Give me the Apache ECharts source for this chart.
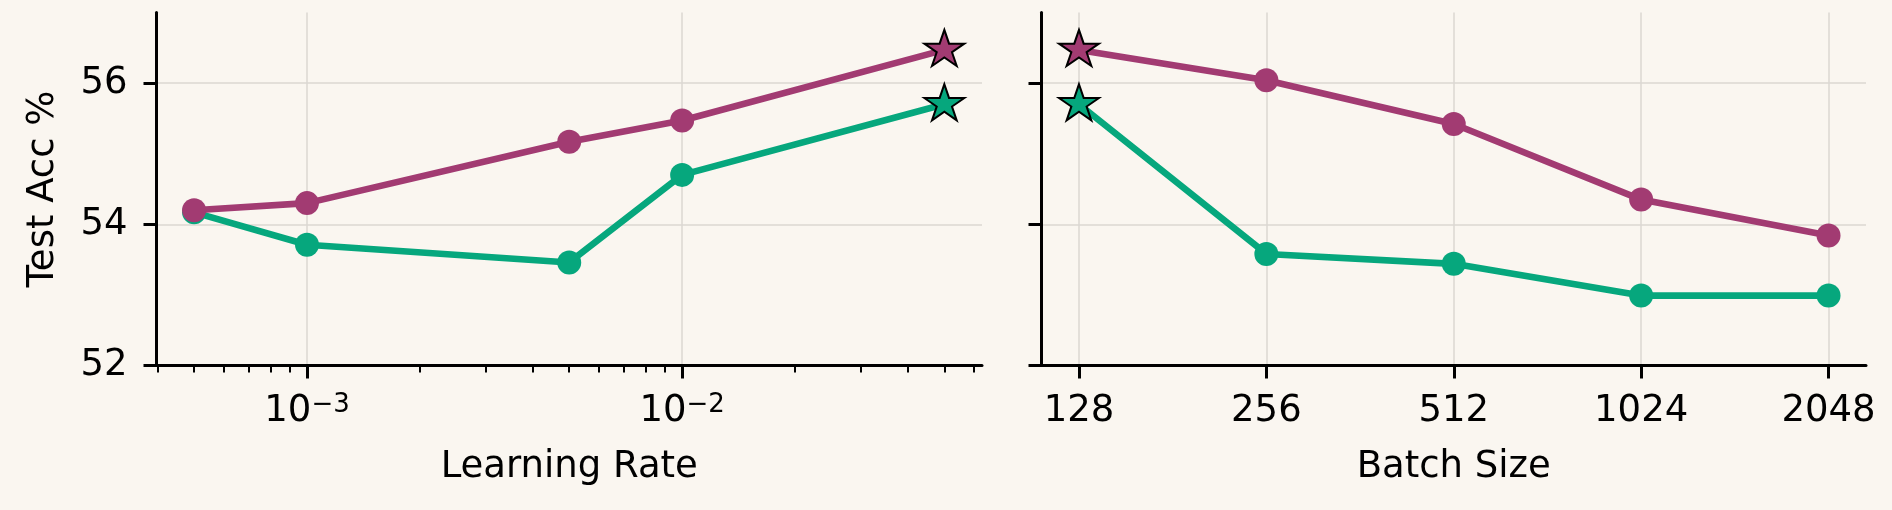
<!DOCTYPE html>
<html><head><meta charset="utf-8">
<script src="https://cdn.jsdelivr.net/npm/echarts@6/dist/echarts.min.js"></script>
<style>html,body{margin:0;padding:0;background:#FAF6F0;}#c{width:1892px;height:510px;}</style>
</head><body><div id="c"></div>
<script>
// ---- data ----
const lrValues = [0.0005, 0.001, 0.005, 0.01, 0.05];
const lrAccPink = [54.20, 54.30, 55.17, 55.47, 56.47];
const lrAccGreen = [54.17, 53.71, 53.46, 54.70, 55.70];
const lrBestIndex = 4;

const batchLabels = ['128', '256', '512', '1024', '2048'];
const bsAccPink = [56.47, 56.04, 55.42, 54.35, 53.84];
const bsAccGreen = [55.70, 53.58, 53.44, 52.99, 52.99];
const bsBestIndex = 0;

const yTicks = [52, 54, 56];
const lrMajorTicks = [0.001, 0.01];
const lrMinorTicks = [0.0004, 0.0005, 0.0006, 0.0007, 0.0008, 0.0009,
  0.002, 0.003, 0.004, 0.005, 0.006, 0.007, 0.008, 0.009,
  0.02, 0.03, 0.04, 0.05, 0.06];

// ---- styles ----
const PINK = '#A23B72', GREEN = '#06A77D', BG = '#FAF6F0', GRIDC = '#DBD7D2';
const FONT = 'DejaVu Sans';
const FS = 37;
const LR_MIN = 3.97e-4, LR_MAX = 0.0630;

function starPath() {
  const pts = [];
  for (let k = 0; k < 10; k++) {
    const a = -Math.PI / 2 + k * Math.PI / 5;
    const r = k % 2 === 0 ? 1 : 0.381966;
    pts.push((r * Math.cos(a)).toFixed(4) + ',' + (r * Math.sin(a)).toFixed(4));
  }
  return 'path://M' + pts.join('L') + 'Z';
}
const STAR = starPath();

function mkSeries(xs, ys, color, best, xi, yi, z) {
  return {
    type: 'line', xAxisIndex: xi, yAxisIndex: yi, z: z,
    symbol: 'circle', symbolSize: 24, showSymbol: true,
    lineStyle: { color: color, width: 6.6 },
    itemStyle: { color: color, borderWidth: 0 },
    emphasis: { disabled: true }, silent: true, animation: false,
    data: ys.map((y, i) => i === best ? {
      value: [xs[i], y], symbol: STAR, symbolSize: [40, 38], symbolKeepAspect: true,
      symbolOffset: [0, -2],
      itemStyle: { color: color, borderColor: '#000', borderWidth: 2 }
    } : { value: [xs[i], y] })
  };
}

const axisLineStyle = { show: true, onZero: false, lineStyle: { color: '#000', width: 3 } };
const majorTick = { show: true, length: 13, lineStyle: { color: '#000', width: 3 } };
const labelBase = { color: '#000', fontSize: FS, fontFamily: FONT };
const nameStyle = { color: '#000', fontSize: FS, fontFamily: FONT };

const bsIdx = batchLabels.map((_, i) => i);

const option = {
  backgroundColor: BG,
  animation: false,
  grid: [
    { left: 156.5, top: 12.5, width: 825.5, height: 353, containLabel: false, outerBoundsMode: 'none' },
    { left: 1041.5, top: 12.5, width: 824.5, height: 353, containLabel: false, outerBoundsMode: 'none' }
  ],
  xAxis: [
    {
      gridIndex: 0, type: 'log', logBase: 10, min: LR_MIN, max: LR_MAX, position: 'bottom',
      axisLine: axisLineStyle,
      axisTick: Object.assign({ customValues: lrMajorTicks }, majorTick),
      minorTick: { show: false },
      axisLabel: Object.assign({
        customValues: lrMajorTicks, margin: 27,
        formatter: v => '{b|10}{s|−' + Math.abs(Math.round(Math.log10(v))) + '}',
        rich: {
          b: { fontSize: FS, fontFamily: FONT, color: '#000' },
          s: { fontSize: 26, fontFamily: FONT, color: '#000', verticalAlign: 'top', lineHeight: 20 }
        }
      }, labelBase),
      splitLine: { show: true, lineStyle: { color: GRIDC, width: 1.5 } },
      name: 'Learning Rate', nameLocation: 'middle', nameGap: 83, nameTextStyle: nameStyle
    },
    {
      gridIndex: 0, type: 'log', logBase: 10, min: LR_MIN, max: LR_MAX, position: 'bottom',
      axisLine: { show: false, onZero: false },
      axisTick: { show: true, customValues: lrMinorTicks, length: 7, lineStyle: { color: '#000', width: 2 } },
      minorTick: { show: false },
      axisLabel: { show: false },
      splitLine: { show: false }
    },
    {
      gridIndex: 1, type: 'value', min: -0.2, max: 4.2, position: 'bottom',
      axisLine: axisLineStyle,
      axisTick: Object.assign({ customValues: bsIdx }, majorTick),
      axisLabel: Object.assign({
        customValues: bsIdx, margin: 27,
        formatter: v => batchLabels[Math.round(v)]
      }, labelBase),
      splitLine: { show: true, lineStyle: { color: GRIDC, width: 1.5 } },
      name: 'Batch Size', nameLocation: 'middle', nameGap: 83, nameTextStyle: nameStyle
    }
  ],
  yAxis: [
    {
      gridIndex: 0, type: 'value', min: 52, max: 57,
      axisLine: axisLineStyle,
      axisTick: Object.assign({ customValues: yTicks }, majorTick),
      axisLabel: Object.assign({ customValues: yTicks, margin: 29 }, labelBase),
      splitLine: { show: true, lineStyle: { color: GRIDC, width: 1.5 } },
      name: 'Test Acc %', nameLocation: 'middle', nameGap: 95, nameRotate: 90, nameTextStyle: nameStyle
    },
    {
      gridIndex: 1, type: 'value', min: 52, max: 57,
      axisLine: axisLineStyle,
      axisTick: Object.assign({ customValues: yTicks }, majorTick),
      axisLabel: { show: false, customValues: yTicks },
      splitLine: { show: true, lineStyle: { color: GRIDC, width: 1.5 } }
    }
  ],
  series: [
    mkSeries(lrValues, lrAccGreen, GREEN, lrBestIndex, 0, 0, 2),
    mkSeries(lrValues, lrAccPink, PINK, lrBestIndex, 0, 0, 3),
    mkSeries(bsIdx, bsAccGreen, GREEN, bsBestIndex, 2, 1, 2),
    mkSeries(bsIdx, bsAccPink, PINK, bsBestIndex, 2, 1, 3)
  ]
};

const chart = echarts.init(document.getElementById('c'), null, { renderer: 'canvas' });
chart.setOption(option);
</script>
</body></html>
